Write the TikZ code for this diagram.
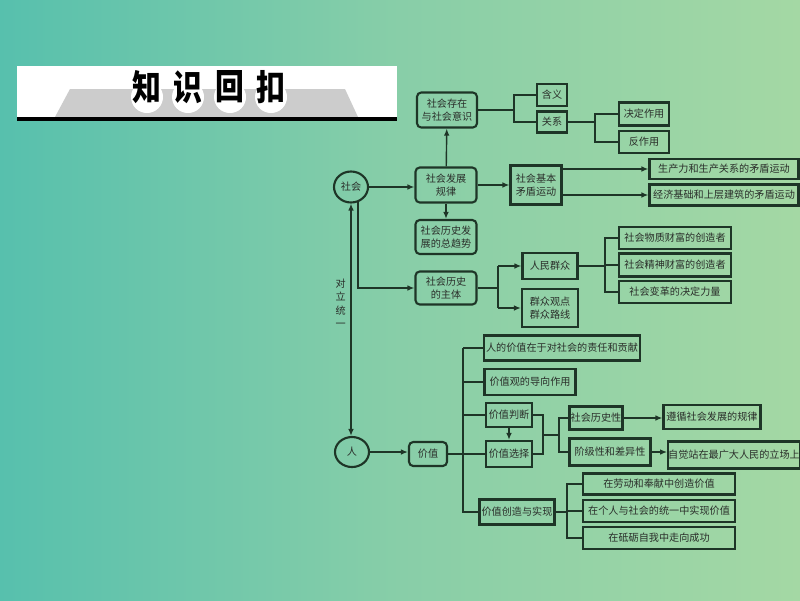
\documentclass[tikz,border=0pt]{standalone}
\usepackage{fontspec}
\newfontfamily\cjk{Noto Sans CJK SC}
\usetikzlibrary{arrows.meta,shapes.geometric}
\definecolor{bgl}{HTML}{57C0AD}
\definecolor{bgm}{HTML}{88CEA8}
\definecolor{bgr}{HTML}{A4D8A4}
\definecolor{linec}{HTML}{1E3527}
\definecolor{textc}{HTML}{2A2E2A}
\newdimen\pxu \pxu=0.025cm
\tikzset{
	kbox/.style={draw=linec, line width=1.5pt, inner sep=0pt, align=center, text=textc,
		font=\cjk\fontsize{7.2}{9.4}\selectfont},
	rbox/.style={kbox, rounded corners=3pt},
	oval/.style={kbox, ellipse},
	link/.style={draw=linec, line width=1pt},
	arr/.style={link, -{Latex[length=5pt,width=4pt]}},
	dblarr/.style={link, {Latex[length=5pt,width=4pt]}-{Latex[length=5pt,width=4pt]}},
	sz/.style 2 args={minimum width=#1\pxu, minimum height=#2\pxu}
}
\begin{document}
\begin{tikzpicture}[x=\pxu, y=-\pxu]
		\shade[left color=bgl, right color=bgr, middle color=bgm] (0,0) rectangle (800,600);
		\useasboundingbox (0,0) rectangle (800,600);
		\fill[white] (17,66) rectangle (397,118);
		\fill[black!20] (55,117) -- (70,89) -- (345,89) -- (358,117) -- cycle;
		\fill[black] (17,117) rectangle (397,121);
		\foreach \c/\x [count=\i] in {知/147,识/188,回/230,扣/271} {
			\fill[white] (\x,97) circle (16);
			\node[font=\cjk\bfseries\fontsize{25}{25}\selectfont, inner sep=0pt] (title\i) at (\x,87) {\scalebox{0.82}[1]{\c}};
		}

		\node[oval, sz={34}{31}] (society) at (351,187) {社会};
		\node[oval, sz={34}{30}] (person) at (352,452) {人};

		\node[rbox, sz={61}{35}] (law) at (446,185) {社会发展\\规律};
		\node[rbox, sz={60}{35}] (being) at (447,110) {社会存在\\与社会意识};
		\node[kbox, sz={30}{22}] (meaning) at (552,95) {含义};
		\node[kbox, sz={30}{21}] (relation) at (552,122) {关系};
		\node[kbox, sz={50}{23}] (decisive) at (644,114) {决定作用};
		\node[kbox, sz={50}{22}] (reaction) at (644,142) {反作用};
		\node[kbox, sz={51}{39}] (basic) at (536,185) {社会基本\\矛盾运动};
		\node[kbox, sz={149}{20}] (forces) at (724,169) {生产力和生产关系的矛盾运动};
		\node[kbox, sz={149}{21}] (base) at (724,195) {经济基础和上层建筑的矛盾运动};
		\node[rbox, sz={61}{34}] (trend) at (446,237) {社会历史发\\展的总趋势};
		\node[rbox, sz={61}{33}] (subject) at (446,288) {社会历史\\的主体};
		\node[kbox, sz={55}{26}] (masses) at (550,266) {人民群众};
		\node[kbox, sz={56}{38}] (line) at (550,308) {群众观点\\群众路线};
		\node[kbox, sz={112}{22}] (material) at (675,238) {社会物质财富的创造者};
		\node[kbox, sz={112}{23}] (spirit) at (675,265) {社会精神财富的创造者};
		\node[kbox, sz={112}{22}] (change) at (675,292) {社会变革的决定力量};

		\node[rbox, sz={38}{24}] (value) at (428,454) {价值};
		\node[kbox, sz={156}{25}] (worth) at (562,348) {人的价值在于对社会的责任和贡献};
		\node[kbox, sz={91}{26}] (guide) at (530,382) {价值观的导向作用};
		\node[kbox, sz={46}{24}] (judge) at (509,415) {价值判断};
		\node[kbox, sz={46}{26}] (choose) at (509,454) {价值选择};
		\node[kbox, sz={53}{23}] (hist) at (596,418) {社会历史性};
		\node[kbox, sz={81}{27}] (class) at (610,452) {阶级性和差异性};
		\node[kbox, sz={97}{24}] (follow) at (712,417) {遵循社会发展的规律};
		\node[kbox, sz={130}{27}] (stand) at (734,455) {自觉站在最广大人民的立场上};
		\node[kbox, sz={75}{25}] (create) at (517,512) {价值创造与实现};
		\node[kbox, sz={152}{21}] (labour) at (659,484) {在劳动和奉献中创造价值};
		\node[kbox, sz={152}{22}] (unity) at (659,511) {在个人与社会的统一中实现价值};
		\node[kbox, sz={152}{22}] (temper) at (659,538) {在砥砺自我中走向成功};

		\coordinate (b1) at (514,0);
		\coordinate (b2) at (595,0);
		\coordinate (b3) at (543,0);
		\coordinate (b4) at (559,0);
		\coordinate (b5) at (567,0);
		\coordinate (b6) at (498,0);
		\coordinate (b7) at (605,0);
		\coordinate (trunk) at (463,0);
		\coordinate (mid) at (543,435);

		\draw[arr] (society.east) -- (society.east -| law.west);
		\draw[arr] (society.-65) |- (subject.west);
		\draw[dblarr] (society.south) -- (society.south |- person.north)
			node[pos=.43, left=3pt, kbox, draw=none, font=\cjk\fontsize{7.2}{9.6}\selectfont] (unity-label) {对\\立\\统\\一};
		\draw[arr] (law) -- (being);
		\draw[arr] (law) -- (trend);
		\draw[arr] (law.east) -- (basic.west);
		\draw[arr] (basic.east |- forces) -- (forces.west);
		\draw[arr] (basic.east |- base) -- (base.west);
		\draw[link] (being.east) -- (being.east -| b1) (meaning.west) -| (b1 |- relation) -- (relation.west);
		\draw[link] (relation.east) -- (relation.east -| b2) (decisive.west) -| (b2 |- reaction) -- (reaction.west);
		\draw[link] (subject.east) -- (subject.east -| b6) (b6 |- masses) -- (b6 |- line);
		\draw[arr] (b6 |- masses) -- (masses.west);
		\draw[arr] (b6 |- line) -- (line.west);
		\draw[link] (masses.east) -- (masses.east -| b7) (material.west) -| (b7 |- change) -- (change.west) (b7 |- spirit) -- (spirit.west);

		\draw[arr] (person.east) -- (person.east -| value.west);
		\draw[link] (value.east) -- (choose.west);
		\draw[link] (trunk |- worth) -- (trunk |- create) -- (create.west)
			(trunk |- worth) -- (worth.west)
			(trunk |- guide) -- (guide.west)
			(trunk |- judge) -- (judge.west);
		\draw[arr] (judge) -- (choose);
		\draw[link] (judge.east) -| (b3 |- choose) -- (choose.east) (mid) -- (mid -| b4);
		\draw[link] (hist.west) -| (b4 |- class) -- (class.west);
		\draw[arr] (hist.east) -- (hist.east -| follow.west);
		\draw[arr] (class.east) -- (class.east -| stand.west);
		\draw[link] (create.east) -- (create.east -| b5) (labour.west) -| (b5 |- temper) -- (temper.west) (b5 |- unity) -- (unity.west);
\end{tikzpicture}
\end{document}
